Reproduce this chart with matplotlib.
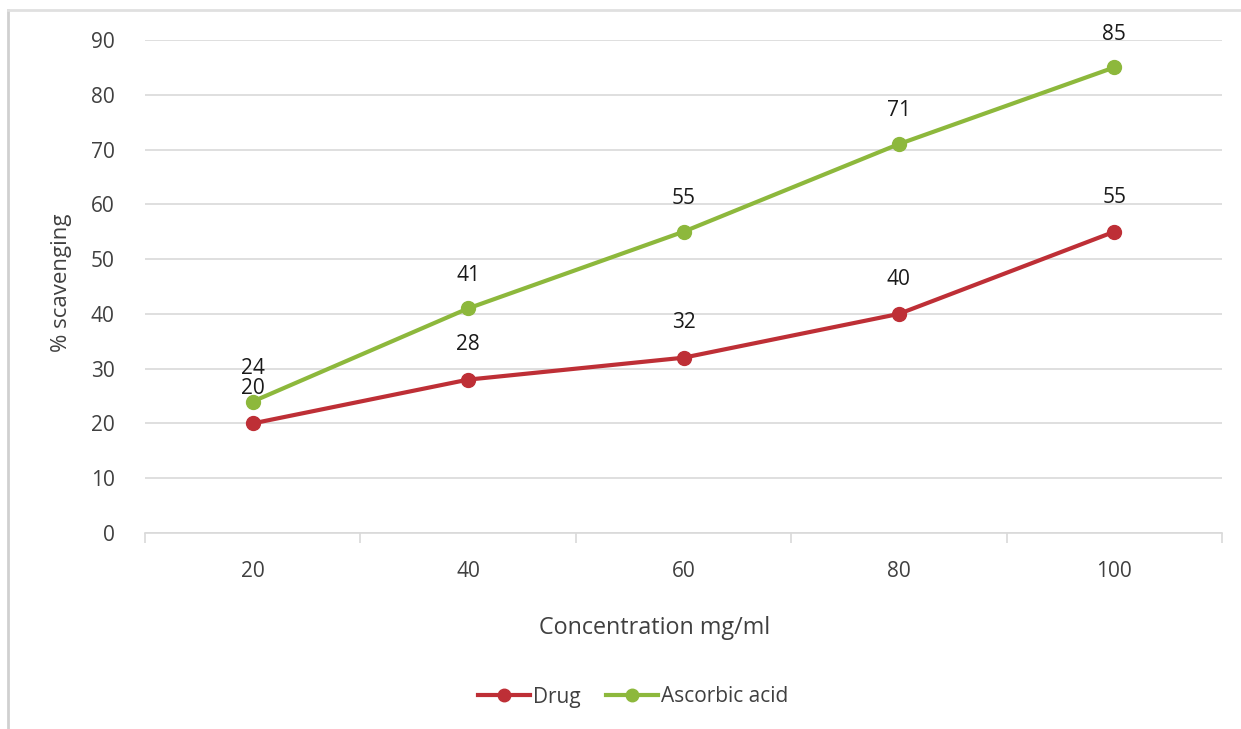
import matplotlib
matplotlib.use("Agg")
import matplotlib.pyplot as plt
from matplotlib.lines import Line2D

categories = ["20", "40", "60", "80", "100"]
drug = [20, 28, 32, 40, 55]
ascorbic = [24, 41, 55, 71, 85]
yticks = [0, 10, 20, 30, 40, 50, 60, 70, 80, 90]

plt.rcParams['font.family'] = ['Open Sans', 'DejaVu Sans']

red = "#BE2F36"
green = "#8DB83C"
text_c = "#404040"

fig = plt.figure(figsize=(12.41, 7.29), dpi=100)
ax = fig.add_axes([145/1241, 1-533/729, (1222-145)/1241, (533-40)/729])

x = list(range(len(categories)))
ax.plot(x, drug, color=red, lw=3, marker='o', ms=10, label="Drug", zorder=3)
ax.plot(x, ascorbic, color=green, lw=3, marker='o', ms=10, label="Ascorbic acid", zorder=3)

for xi, v in zip(x, drug):
    ax.annotate(str(v), (xi, v), xytext=(0, 25), textcoords='offset points',
                ha='center', va='center', fontsize=15, color='#1a1a1a')
for xi, v in zip(x, ascorbic):
    ax.annotate(str(v), (xi, v), xytext=(0, 24), textcoords='offset points',
                ha='center', va='center', fontsize=15, color='#1a1a1a')

ax.set_xlim(-0.5, len(categories) - 0.5)
ax.set_ylim(0, 90)
ax.set_yticks(yticks)
ax.set_xticks(x)
ax.set_xticklabels(categories)
ax.set_xticks([i + 0.5 for i in range(-1, len(categories))], minor=True)
ax.tick_params(axis='x', which='major', length=0, pad=20, labelsize=15, labelcolor=text_c)
ax.tick_params(axis='x', which='minor', length=7, color='#D9D9D9', width=1.2)
ax.tick_params(axis='y', length=0, pad=22, labelsize=15, labelcolor=text_c)
ax.grid(axis='y', color='#D9D9D9', lw=1.2)
ax.set_axisbelow(True)
for s in ['top', 'right', 'left']:
    ax.spines[s].set_visible(False)
ax.spines['bottom'].set_color('#D9D9D9')
ax.spines['bottom'].set_linewidth(1.2)

fig.text(655/1241, 1-628/729, "Concentration mg/ml", ha='center', va='center', fontsize=16.8, color=text_c)
fig.text(62/1241, 1-283/729, "% scavenging", ha='center', va='center', fontsize=16, color=text_c, rotation=90)

handles = [Line2D([], [], color=red, lw=3, marker='o', ms=9),
           Line2D([], [], color=green, lw=3, marker='o', ms=9)]
fig.legend(handles, ["Drug", "Ascorbic acid"], loc='center', bbox_to_anchor=(633/1241, 1-697/729),
           ncol=2, frameon=False, fontsize=15, handlelength=2.5, handletextpad=0.15, columnspacing=1.2,
           labelcolor=text_c)

# outer frame (left and top visible)
fig.add_artist(Line2D([8/1241, 8/1241], [0, 1-10/729], color='#D0D0D0', lw=2, transform=fig.transFigure))
fig.add_artist(Line2D([8/1241, 1], [1-10/729, 1-10/729], color='#E0E0E0', lw=2, transform=fig.transFigure))

fig.savefig("out.png", dpi=100, facecolor='white')
